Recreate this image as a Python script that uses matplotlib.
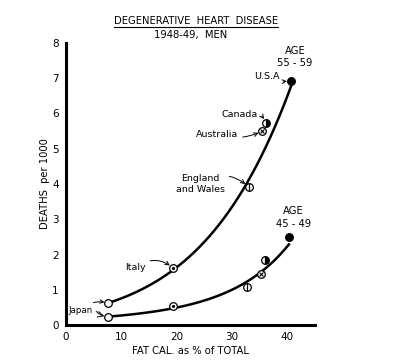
import numpy as np
import matplotlib
matplotlib.use('Agg')
import matplotlib.pyplot as plt
from matplotlib.lines import Line2D

# -------- datos --------
paises = ['Japan', 'Italy', 'England and Wales', 'Australia', 'Canada', 'U.S.A']
fat_55 = [7.7, 19.4, 33.0, 35.5, 36.2, 40.7]
muertes_55 = [0.62, 1.62, 3.92, 5.50, 5.74, 6.93]
fat_45 = [7.7, 19.4, 32.8, 35.2, 35.9, 40.3]
muertes_45 = [0.23, 0.54, 1.08, 1.45, 1.85, 2.50]

# indices usados para la curva ajustada
curva_55 = [0, 1, 2, 5]
curva_45 = [0, 1, 2, 3, 5]

plt.rcParams['font.family'] = 'DejaVu Sans'
fig = plt.figure(figsize=(4.09, 3.6), dpi=100)
ax = fig.add_axes([0.161, 0.097, 0.609, 0.784])


def curva(xs, ys, idx):
    x = np.array([xs[i] for i in idx])
    y = np.array([ys[i] for i in idx])
    c = np.polyfit(x, np.log(y), 2)
    xx = np.linspace(x.min(), x.max(), 200)
    return xx, np.exp(np.polyval(c, xx))


for xs, ys, idx in [(fat_55, muertes_55, curva_55), (fat_45, muertes_45, curva_45)]:
    xx, yy = curva(xs, ys, idx)
    ax.plot(xx, yy, 'k-', lw=1.8, zorder=2)


def marcador(x, y, tipo):
    kw = dict(ms=5.5, mec='black', mew=0.9, zorder=3)
    if tipo == 'Japan':
        ax.plot(x, y, 'o', mfc='white', **kw)
    elif tipo == 'Italy':
        ax.plot(x, y, 'o', mfc='white', **kw)
        ax.plot(x, y, '.', color='black', ms=2.5, zorder=4)
    elif tipo == 'England and Wales':
        ax.plot(x, y, 'o', mfc='white', **kw)
        ax.plot(x, y, '|', color='black', ms=5.5, mew=0.9, zorder=4)
    elif tipo == 'Australia':
        ax.plot(x, y, 'o', mfc='white', **kw)
        ax.plot(x, y, 'x', color='black', ms=3.5, mew=0.8, zorder=4)
    elif tipo == 'Canada':
        ax.plot(x, y, 'o', fillstyle='right', mfc='black', mfcalt='white', **kw)
    else:
        ax.plot(x, y, 'o', mfc='black', **kw)


for i, p in enumerate(paises):
    marcador(fat_55[i], muertes_55[i], p)
    marcador(fat_45[i], muertes_45[i], p)

fs = 6.8
flecha = dict(arrowstyle='->', lw=0.7, color='black', shrinkA=1, shrinkB=3)
ax.annotate('U.S.A', xy=(fat_55[5], muertes_55[5]), xytext=(38.6, 7.05),
            ha='right', va='center', fontsize=fs,
            arrowprops=dict(flecha, connectionstyle='arc3,rad=0.2'))
ax.annotate('Canada', xy=(fat_55[4], muertes_55[4]), xytext=(34.7, 5.97),
            ha='right', va='center', fontsize=fs,
            arrowprops=dict(flecha, connectionstyle='arc3,rad=-0.5'))
ax.annotate('Australia', xy=(fat_55[3], muertes_55[3]), xytext=(31.2, 5.4),
            ha='right', va='center', fontsize=fs,
            arrowprops=dict(flecha, connectionstyle='arc3,rad=0.2'))
ax.annotate('England\nand Wales', xy=(fat_55[2], muertes_55[2]), xytext=(28.8, 4.0),
            ha='right', va='center', fontsize=fs, multialignment='center',
            arrowprops=dict(flecha, connectionstyle='arc3,rad=-0.4'))
ax.annotate('Italy', xy=(fat_55[1], muertes_55[1]), xytext=(14.5, 1.62),
            ha='right', va='center', fontsize=fs,
            arrowprops=dict(flecha, connectionstyle='arc3,rad=-0.4'))
ax.annotate('Japan', xy=(fat_55[0], muertes_55[0]), xytext=(0.5, 0.42),
            ha='left', va='center', fontsize=6.3,
            arrowprops=dict(flecha, connectionstyle='arc3,rad=-0.3'))
ax.annotate('', xy=(fat_45[0], muertes_45[0]), xytext=(5.3, 0.42),
            arrowprops=dict(flecha, connectionstyle='arc3,rad=0.2'))

ax.text(41.4, 7.6, 'AGE\n55 - 59', ha='center', va='center', fontsize=7.2,
        linespacing=1.3)
ax.text(41.1, 3.05, 'AGE\n45 - 49', ha='center', va='center', fontsize=7.2,
        linespacing=1.3)

ax.set_xlim(0, 45)
ax.set_ylim(0, 8)
ax.set_xticks([0, 10, 20, 30, 40])
ax.set_yticks(range(0, 9))
ax.tick_params(length=0, labelsize=7.5, pad=5)
for s in ['top', 'right']:
    ax.spines[s].set_visible(False)
for s in ['left', 'bottom']:
    ax.spines[s].set_linewidth(2.2)
ax.set_xlabel('FAT CAL. as % of TOTAL', fontsize=7.2, labelpad=3)
ax.set_ylabel('DEATHS  per 1000', fontsize=7.2, labelpad=2)

# titulo subrayado
t = fig.text(196 / 409, 1 - 21 / 360, 'DEGENERATIVE  HEART  DISEASE',
             ha='center', va='center', fontsize=7.2)
fig.text(191 / 409, 1 - 35 / 360, '1948-49,  MEN', ha='center', va='center',
         fontsize=7.2)
fig.canvas.draw()
bb = t.get_window_extent().transformed(fig.transFigure.inverted())
fig.add_artist(Line2D([bb.x0, bb.x1], [bb.y0 - 0.004, bb.y0 - 0.004],
                      color='black', lw=0.8))

fig.savefig('out.png', dpi=100)
